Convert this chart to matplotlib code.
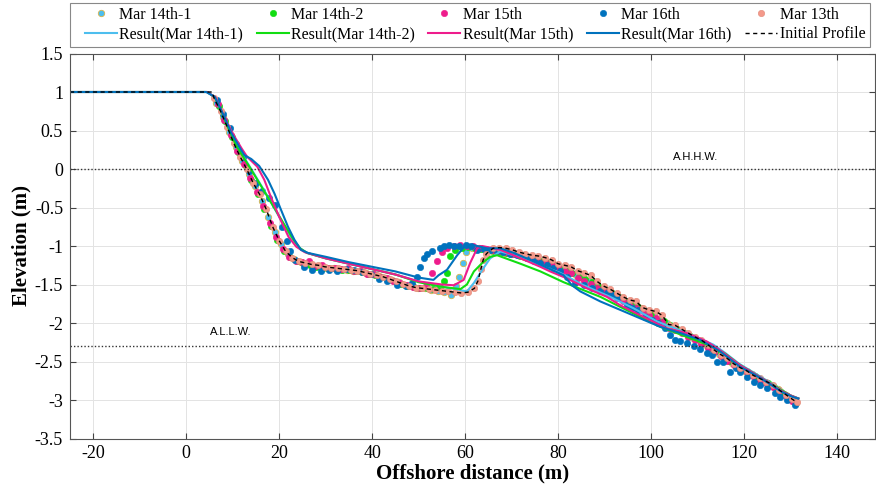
import matplotlib.pyplot as plt

plt.rcParams['axes.unicode_minus'] = False
plt.rcParams['font.family'] = 'Liberation Serif'

# measured profiles (dots)
x_m13 = [6.0, 7.4, 8.8, 10.2, 11.6, 13.0, 14.4, 15.8, 17.2, 18.6, 20.0, 21.4, 22.8, 24.2, 25.6, 27.0,
         28.4, 29.8, 31.2, 32.6, 34.0, 35.4, 36.8, 38.2, 39.6, 41.0, 42.4, 43.8, 45.2, 46.6, 48.0, 49.4,
         50.8, 52.2, 53.6, 55.0, 56.4, 57.8, 59.2, 60.6, 62.0, 62.8, 63.4, 63.9, 64.6, 66.0, 67.4, 68.8,
         70.2, 71.6, 73.0, 74.4, 75.8, 77.2, 78.6, 80.0, 81.4, 82.8, 84.2, 85.6, 87.0, 88.4, 89.8, 91.2,
         92.6, 94.0, 95.4, 96.8, 98.2, 99.6, 101.0, 102.4, 103.8, 105.2, 106.6, 108.0, 109.4, 110.8, 112.2,
         113.6, 115.0, 116.4, 117.8, 119.2, 120.6, 122.0, 123.4, 124.8, 126.2, 127.6, 129.0, 130.4, 131.4]
z_m13 = [0.92, 0.75, 0.55, 0.34, 0.16, 0.0, -0.18, -0.33, -0.52, -0.75, -0.93, -1.07, -1.15, -1.2, -1.22, -1.24,
         -1.25, -1.27, -1.28, -1.29, -1.3, -1.31, -1.32, -1.34, -1.36, -1.38, -1.4, -1.43, -1.46, -1.49, -1.52, -1.54,
         -1.55, -1.56, -1.57, -1.58, -1.59, -1.6, -1.61, -1.6, -1.55, -1.45, -1.3, -1.18, -1.1, -1.03, -1.02, -1.03,
         -1.05, -1.08, -1.1, -1.12, -1.13, -1.15, -1.18, -1.23, -1.25, -1.27, -1.32, -1.35, -1.38, -1.46, -1.52, -1.56,
         -1.61, -1.66, -1.7, -1.72, -1.8, -1.83, -1.85, -1.9, -2.02, -2.03, -2.08, -2.13, -2.18, -2.22, -2.28,
         -2.35, -2.41, -2.46, -2.53, -2.58, -2.62, -2.68, -2.72, -2.76, -2.8, -2.87, -2.93, -2.99, -3.03]

x_m141 = [6.5, 7.9, 9.3, 10.7, 12.1, 13.5, 14.9, 16.3, 17.7, 19.1, 20.5, 21.9, 23.3, 24.7, 26.1, 27.5, 28.9,
          30.3, 31.7, 33.1, 34.5, 35.9, 37.3, 38.7, 40.1, 41.5, 42.9, 44.3, 45.7, 47.1, 48.5, 49.9, 51.3, 52.7,
          54.1, 55.5, 56.9, 58.0, 58.8, 59.5, 60.3, 61.5, 62.9, 64.3, 65.7, 67.1, 68.5, 69.9, 71.3, 72.7, 74.1,
          75.5, 76.9, 78.3, 79.7, 81.1, 82.5, 83.9, 85.3, 86.7, 88.1, 89.5, 90.9, 92.3, 93.7, 95.1, 96.5, 97.9,
          99.3, 100.7, 102.1, 103.5, 104.9, 106.3, 107.7, 109.1, 110.5, 111.9, 113.3, 114.7, 116.1, 117.5, 118.9,
          120.3, 121.7, 123.1, 124.5, 125.9, 127.3, 128.7, 130.1, 131.3]
z_m141 = [0.86, 0.68, 0.48, 0.28, 0.1, -0.06, -0.22, -0.42, -0.62, -0.82, -0.98, -1.1, -1.17, -1.21, -1.23, -1.26,
          -1.27, -1.29, -1.29, -1.3, -1.31, -1.32, -1.33, -1.35, -1.37, -1.39, -1.41, -1.44, -1.47, -1.5, -1.52,
          -1.54, -1.55, -1.57, -1.58, -1.6, -1.63, -1.52, -1.4, -1.22, -1.08, -1.03, -1.03, -1.05, -1.06, -1.07,
          -1.09, -1.1, -1.12, -1.14, -1.16, -1.18, -1.2, -1.22, -1.26, -1.3, -1.32, -1.38, -1.42, -1.45, -1.5,
          -1.54, -1.58, -1.63, -1.68, -1.73, -1.76, -1.8, -1.86, -1.9, -1.94, -2.0, -2.05, -2.1, -2.14, -2.19,
          -2.24, -2.29, -2.35, -2.4, -2.46, -2.52, -2.57, -2.62, -2.66, -2.71, -2.76, -2.81, -2.86, -2.92, -2.97, -3.04]

x_m142 = [7.0, 8.4, 9.8, 11.2, 12.6, 14.0, 15.4, 16.8, 18.2, 19.6, 21.0, 22.4, 23.8, 25.2, 26.6, 28.0, 29.4,
          30.8, 32.2, 33.6, 35.0, 36.4, 37.8, 39.2, 40.6, 42.0, 43.4, 44.8, 46.2, 47.6, 49.0, 50.4, 51.8, 53.2,
          54.5, 55.4, 56.1, 56.8, 57.9, 59.3, 60.7, 62.1, 63.5, 64.9, 66.3, 67.7, 69.1, 70.5, 71.9, 73.3, 74.7,
          76.1, 77.5, 78.9, 80.3, 81.7, 83.1, 84.5, 85.9, 87.3, 88.7, 90.1, 91.5, 92.9, 94.3, 95.7, 97.1, 98.5,
          99.9, 101.3, 102.7, 104.1, 105.5, 106.9, 108.3, 109.7, 111.1, 112.5, 113.9, 115.3, 116.7, 118.1, 119.5,
          120.9, 122.3, 123.7, 125.1, 126.5, 127.9, 129.3, 130.7]
z_m142 = [0.82, 0.62, 0.42, 0.22, 0.05, -0.14, -0.32, -0.52, -0.74, -0.92, -1.06, -1.14, -1.2, -1.22, -1.25, -1.27,
          -1.28, -1.28, -1.3, -1.31, -1.31, -1.33, -1.34, -1.37, -1.38, -1.4, -1.43, -1.45, -1.49, -1.52, -1.53,
          -1.54, -1.55, -1.56, -1.53, -1.46, -1.35, -1.13, -1.05, -1.02, -1.01, -1.02, -1.04, -1.05, -1.06, -1.08,
          -1.09, -1.11, -1.13, -1.15, -1.17, -1.19, -1.21, -1.24, -1.29, -1.31, -1.35, -1.4, -1.43, -1.47, -1.52,
          -1.56, -1.6, -1.65, -1.7, -1.74, -1.78, -1.83, -1.88, -1.96, -1.98, -2.03, -2.08, -2.12, -2.17, -2.21,
          -2.26, -2.32, -2.37, -2.43, -2.49, -2.54, -2.6, -2.64, -2.69, -2.74, -2.78, -2.83, -2.89, -2.95, -3.02]

x_m15 = [6.8, 8.2, 9.6, 11.0, 12.4, 13.8, 15.2, 16.6, 18.0, 19.4, 20.8, 22.2, 23.6, 25.0, 26.4, 27.8, 29.2,
         30.6, 32.0, 33.4, 34.8, 36.2, 37.6, 39.0, 40.4, 41.8, 43.2, 44.6, 46.0, 47.4, 48.8, 50.2, 51.6, 52.9,
         54.0, 55.0, 56.2, 57.6, 59.0, 60.4, 61.8, 63.2, 64.6, 66.0, 67.4, 68.8, 70.2, 71.6, 73.0, 74.4, 75.8,
         77.2, 78.6, 80.0, 81.4, 82.8, 84.2, 85.6, 87.0, 88.4, 89.8, 91.2, 92.6, 94.0, 95.4, 96.8, 98.2, 99.6,
         101.0, 102.4, 103.8, 105.2, 106.6, 108.0, 109.4, 110.8, 112.2, 113.6, 115.0, 116.4, 117.8, 119.2,
         120.6, 122.0, 123.4, 124.8, 126.2, 127.6, 129.0, 130.4]
z_m15 = [0.84, 0.64, 0.44, 0.24, 0.06, -0.12, -0.3, -0.48, -0.7, -0.88, -1.04, -1.14, -1.19, -1.21, -1.2, -1.26,
         -1.25, -1.29, -1.28, -1.3, -1.28, -1.33, -1.32, -1.36, -1.36, -1.4, -1.42, -1.45, -1.48, -1.5, -1.53,
         -1.55, -1.52, -1.35, -1.2, -1.08, -1.02, -1.0, -0.99, -1.0, -1.0, -1.02, -1.04, -1.05, -1.06, -1.08,
         -1.1, -1.11, -1.14, -1.17, -1.19, -1.21, -1.23, -1.27, -1.32, -1.35, -1.42, -1.46, -1.49, -1.54, -1.58,
         -1.62, -1.67, -1.71, -1.78, -1.81, -1.85, -1.9, -1.94, -1.99, -2.06, -2.09, -2.13, -2.18, -2.22, -2.27,
         -2.32, -2.38, -2.43, -2.49, -2.55, -2.6, -2.64, -2.69, -2.74, -2.78, -2.83, -2.88, -2.95, -3.01]

x_m16 = [6.6, 8.0, 9.4, 10.8, 12.2, 13.6, 15.0, 16.4, 17.8, 19.2, 20.6, 21.7, 22.4, 23.5, 25.3, 27.1, 28.9,
         30.7, 32.5, 34.3, 36.1, 37.9, 39.7, 41.4, 43.2, 45.4, 47.2, 48.6, 49.7, 50.4, 51.1, 51.8, 52.9, 54.7,
         55.4, 56.5, 57.6, 58.6, 60.1, 61.2, 62.6, 64.0, 65.4, 66.8, 68.2, 69.6, 71.2, 73.3, 74.8, 76.2, 77.6,
         79.0, 80.5, 81.9, 83.7, 85.5, 87.3, 89.0, 90.5, 91.8, 93.0, 94.8, 96.0, 97.3, 98.8, 100.2, 101.6, 103.0,
         104.2, 105.2, 106.3, 107.7, 109.2, 110.6, 112.0, 113.2, 114.2, 115.6, 117.1, 118.2, 119.2, 120.6,
         122.1, 123.5, 124.9, 126.7, 127.8, 129.2, 131.0]
z_m16 = [0.9, 0.72, 0.53, 0.33, 0.15, -0.02, -0.18, -0.28, -0.38, -0.47, -0.75, -0.94, -1.07, -1.18, -1.27, -1.31,
         -1.32, -1.31, -1.33, -1.3, -1.31, -1.34, -1.37, -1.43, -1.46, -1.51, -1.52, -1.48, -1.4, -1.27, -1.16,
         -1.1, -1.07, -1.03, -1.0, -0.99, -1.0, -1.0, -0.99, -1.0, -1.05, -1.04, -1.05, -1.06, -1.08, -1.1, -1.12,
         -1.16, -1.2, -1.22, -1.25, -1.28, -1.33, -1.4, -1.48, -1.51, -1.55, -1.58, -1.61, -1.63, -1.66, -1.77,
         -1.8, -1.83, -1.92, -1.96, -2.0, -2.07, -2.15, -2.22, -2.24, -2.26, -2.3, -2.34, -2.39, -2.42, -2.5,
         -2.5, -2.63, -2.58, -2.63, -2.7, -2.76, -2.81, -2.85, -2.91, -2.96, -3.0, -3.06]

# model results (lines)
x_r141 = [-25, 4.5, 6.2, 8, 10, 11, 14, 17, 20, 22.5, 24.3, 26, 30, 35, 40, 45, 50, 55, 58, 60.4, 61.9, 63.7,
          65.4, 67.6, 71, 74.8, 80.5, 85.5, 91.2, 96.3, 101.3, 107.7, 113.4, 116, 119, 122, 125, 128, 130, 131.7]
z_r141 = [1, 1, 0.93, 0.68, 0.42, 0.29, 0.0, -0.3, -0.62, -0.88, -1.02, -1.09, -1.16, -1.23, -1.3, -1.37, -1.46,
          -1.53, -1.56, -1.59, -1.48, -1.31, -1.16, -1.07, -1.13, -1.22, -1.35, -1.51, -1.66, -1.81, -1.98, -2.13,
          -2.28, -2.39, -2.53, -2.64, -2.75, -2.87, -2.94, -2.98]

x_r142 = [-25, 4.5, 6.2, 8, 10, 10.9, 14, 17, 20, 23.1, 24.5, 26, 30, 35, 40, 45, 50, 55, 59, 60.4, 61.9, 63.7,
          65.4, 66.9, 71.9, 76.2, 81.2, 84.1, 89.1, 92.7, 97.7, 102, 107.7, 113.4, 116, 119, 122, 125, 128, 130, 131.7]
z_r142 = [1, 1, 0.93, 0.68, 0.4, 0.29, -0.01, -0.31, -0.61, -0.92, -1.03, -1.09, -1.16, -1.23, -1.3, -1.37, -1.47,
          -1.53, -1.56, -1.5, -1.33, -1.22, -1.14, -1.12, -1.23, -1.33, -1.47, -1.54, -1.66, -1.77, -1.92, -2.05,
          -2.18, -2.31, -2.4, -2.54, -2.65, -2.76, -2.87, -2.94, -2.98]

x_r15 = [-25, 4.5, 6.3, 8, 10, 12, 13.1, 15.3, 16.8, 18.2, 20, 22, 23.7, 25.5, 30, 35, 40, 45, 50, 55, 57.6, 59.7,
         61.1, 62.6, 63.7, 67.6, 70.4, 76.2, 78.3, 81.9, 86.2, 90.5, 93.4, 97.7, 103.4, 107.7, 112, 115, 119.2,
         122, 125, 128, 130, 131.7]
z_r15 = [1, 1, 0.93, 0.7, 0.46, 0.26, 0.16, 0.03, -0.14, -0.36, -0.62, -0.88, -1.01, -1.08, -1.16, -1.23, -1.3,
         -1.37, -1.46, -1.5, -1.51, -1.44, -1.22, -1.03, -1.0, -1.05, -1.12, -1.27, -1.33, -1.42, -1.55, -1.66,
         -1.77, -1.9, -2.07, -2.13, -2.24, -2.36, -2.55, -2.65, -2.76, -2.88, -2.94, -2.98]

x_r16 = [-25, 4.3, 6.1, 7.5, 9.7, 11.4, 12.5, 14, 15.7, 17.6, 19, 20.4, 21.9, 23.3, 24.7, 26.2, 30, 35, 40, 45,
         50, 53.2, 54.3, 56.1, 58.3, 60.1, 61.9, 64.7, 67.6, 70.5, 74, 78.3, 81.2, 83, 84.8, 89.1, 93.4, 97.7,
         102, 106.3, 110.6, 114.9, 119.2, 122, 125, 128, 130.5, 131.7]
z_r16 = [1, 1, 0.94, 0.77, 0.47, 0.29, 0.18, 0.13, 0.04, -0.14, -0.32, -0.53, -0.75, -0.92, -1.05, -1.09, -1.14,
         -1.21, -1.27, -1.33, -1.41, -1.44, -1.38, -1.31, -1.12, -0.99, -0.99, -1.03, -1.03, -1.09, -1.18, -1.3,
         -1.38, -1.51, -1.59, -1.72, -1.83, -1.94, -2.05, -2.13, -2.22, -2.37, -2.57, -2.66, -2.77, -2.89, -2.96, -2.98]

# initial profile = flat berm + Mar 13 survey
x_init = [-25, 5.6] + x_m13
z_init = [1.0, 1.0] + z_m13

ahhw = 0.0
allw = -2.3

c141, c142, c15, c16, c13 = '#4DBEEE', '#11DD11', '#EE1C8C', '#0072BD', '#F4998A'

fig = plt.figure(figsize=(8.76, 4.9), dpi=100)
ax = fig.add_axes([70/876, 1-438.5/490, 805/876, 385/490])

ms = 4.6
d1, = ax.plot(x_m141, z_m141, 'o', ms=ms, mfc=c141, mec='#D9B44A', mew=0.6)
d2, = ax.plot(x_m142, z_m142, 'o', ms=ms, mfc=c142, mec=c142, mew=0.4)
d3, = ax.plot(x_m15, z_m15, 'o', ms=ms, mfc=c15, mec=c15, mew=0.4)
d4, = ax.plot(x_m16, z_m16, 'o', ms=ms, mfc=c16, mec=c16, mew=0.4)
d5, = ax.plot(x_m13, z_m13, 'o', ms=ms, mfc=c13, mec='#E08878', mew=0.4)

l1, = ax.plot(x_r141, z_r141, '-', color=c141, lw=1.5)
l2, = ax.plot(x_r142, z_r142, '-', color=c142, lw=1.5)
l3, = ax.plot(x_r15, z_r15, '-', color=c15, lw=1.5)
l4, = ax.plot(x_r16, z_r16, '-', color=c16, lw=1.5)
l5, = ax.plot(x_init, z_init, color='k', lw=1.0, ls=(0, (3, 2.5)))

ax.axhline(ahhw, color='#333333', lw=1.0, ls=(0, (1, 1.5)))
ax.axhline(allw, color='#333333', lw=1.0, ls=(0, (1, 1.5)))
ax.text(109.6, 0.155, 'A.H.H.W.', ha='center', va='center', fontsize=8, family='Liberation Sans')
ax.text(9.5, -2.12, 'A.L.L.W.', ha='center', va='center', fontsize=8, family='Liberation Sans')

ax.set_xlim(-25, 148.2)
ax.set_ylim(-3.5, 1.5)
ax.set_xticks(range(-20, 141, 20))
yt = [1.5, 1, 0.5, 0, -0.5, -1, -1.5, -2, -2.5, -3, -3.5]
ax.set_yticks(yt)
ax.set_yticklabels(['%g' % v for v in yt])
ax.tick_params(direction='in', top=True, right=True, length=4, labelsize=13, color='#444444', pad=5)
ax.grid(True, color='#e3e3e3', lw=0.7)
ax.set_axisbelow(True)
for s in ax.spines.values():
    s.set_color('#555555')
    s.set_linewidth(0.8)

ax.set_xlabel('Offshore distance (m)', fontsize=15, fontweight='bold', labelpad=1)
ax.set_ylabel('Elevation (m)', fontsize=15, fontweight='bold', labelpad=2)

handles = [d1, l1, d2, l2, d3, l3, d4, l4, d5, l5]
labels = ['Mar 14th-1', 'Result(Mar 14th-1)', 'Mar 14th-2', 'Result(Mar 14th-2)',
          'Mar 15th', 'Result(Mar 15th)', 'Mar 16th', 'Result(Mar 16th)', 'Mar 13th', 'Initial Profile']
leg = fig.legend(handles, labels, ncol=5, loc='lower left',
                 bbox_to_anchor=(80/876, 1-47/490, 790/876, 44/490), mode='expand',
                 fontsize=11.5, frameon=False,
                 handlelength=2.0, handletextpad=0.15, borderaxespad=0, labelspacing=0.2,
                 columnspacing=0.3, borderpad=0.3)
frame = plt.Rectangle((70/876, 1-47/490), 800/876, 44/490, transform=fig.transFigure,
                      fill=False, edgecolor='#888888', lw=0.8)
fig.add_artist(frame)

plt.savefig('out.png', dpi=100)
